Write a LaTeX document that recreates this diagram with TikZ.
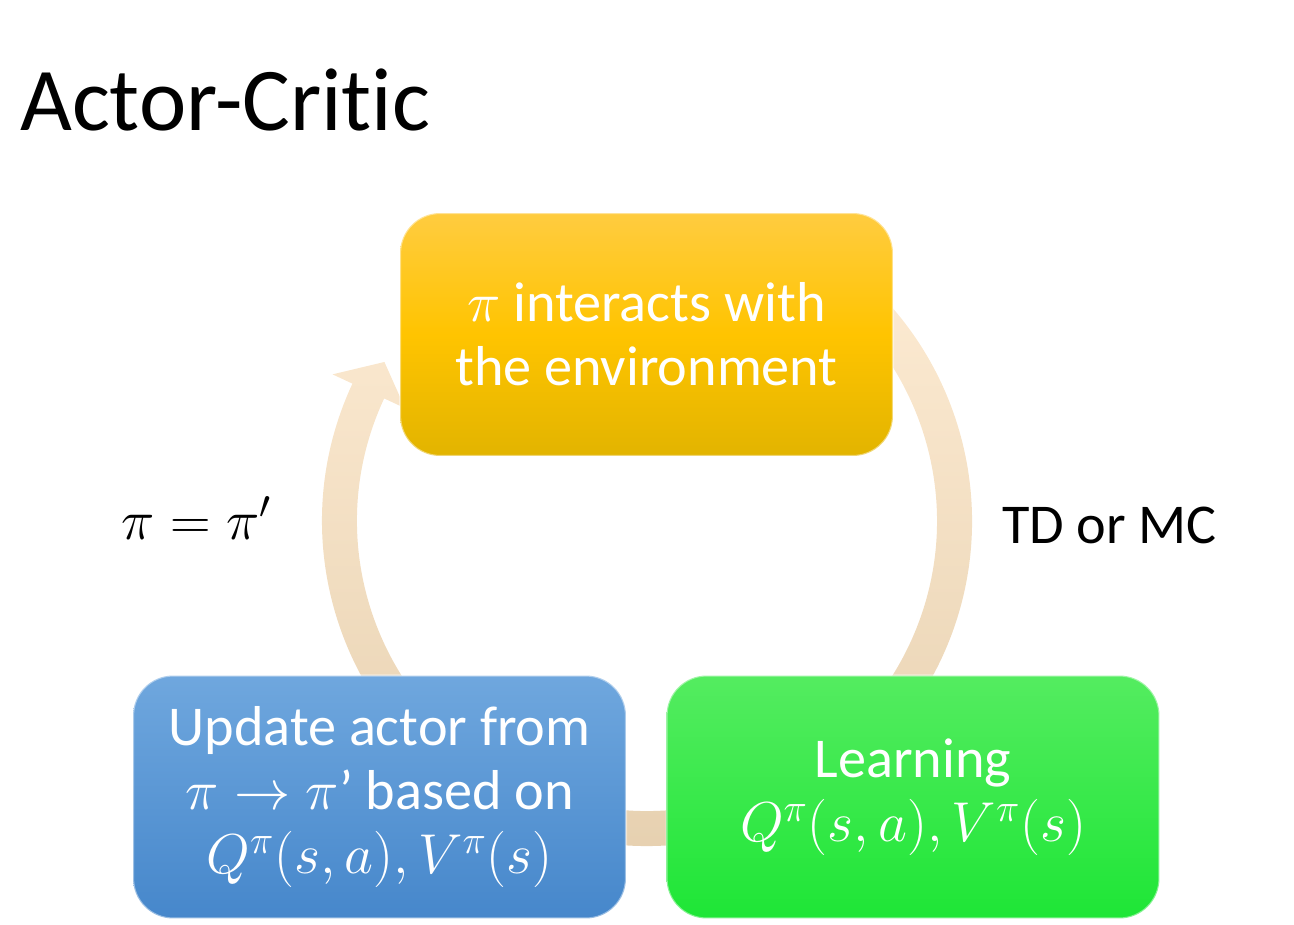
\documentclass[tikz,border=0pt]{standalone}
\usepackage{fix-cm}
\usepackage{fontspec}
\setmainfont{Carlito}[Ligatures=NoCommon]
\definecolor{ringtop}{RGB}{254,236,212}
\definecolor{ringbot}{RGB}{229,207,174}
\definecolor{envtop}{RGB}{255,204,64}
\definecolor{envmid}{RGB}{255,196,0}
\definecolor{envbot}{RGB}{226,180,0}
\definecolor{updtop}{RGB}{111,167,222}
\definecolor{updbot}{RGB}{70,135,203}
\definecolor{lrntop}{RGB}{84,236,96}
\definecolor{lrnbot}{RGB}{30,230,54}
\begin{document}
\begin{tikzpicture}[x=0.02cm,y=0.02cm,
  stage/.style={rounded corners=0.8cm, minimum width=9.86cm, minimum height=4.86cm,
    align=center, text=white, font=\fontsize{32}{36.5}\selectfont,
    draw=white, draw opacity=0.45, line width=1.2pt},
  side/.style={anchor=base west, font=\fontsize{32}{36.5}\selectfont}]
\useasboundingbox (0,0) rectangle (1294,924);
\coordinate (c) at (647,403);
% cycle arrow behind the boxes
\shade[top color=ringtop, bottom color=ringbot, shift={(c)}]
  (60:325) arc[start angle=60, end angle=-205, radius=325]
  -- (-205:347) -- (-211.2:307) -- (-205:267) -- (-205:290)
  arc[start angle=-205, end angle=60, radius=290] -- cycle;
\node[stage, top color=envtop, bottom color=envbot, middle color=envmid] (env) at (646.5,589.5)
  {$\pi$ interacts with\\the environment};
\node[stage, top color=updtop, bottom color=updbot] (upd) at (379.5,127)
  {Update actor from\\$\pi\rightarrow\pi$’ based on\\$Q^{\pi}(s,a),V^{\pi}(s)$};
\node[stage, top color=lrntop, bottom color=lrnbot] (lrn) at (913,127)
  {Learning\\$Q^{\pi}(s,a),V^{\pi}(s)$};
\node[side] (newpi) at (115,385) {$\pi=\pi'$};
\node[side] (tdmc) at (996,381) {TD or MC};
\node[anchor=base west, font=\fontsize{51}{60}\selectfont] (title) at (14,793) {Actor-Critic};
\end{tikzpicture}
\end{document}
